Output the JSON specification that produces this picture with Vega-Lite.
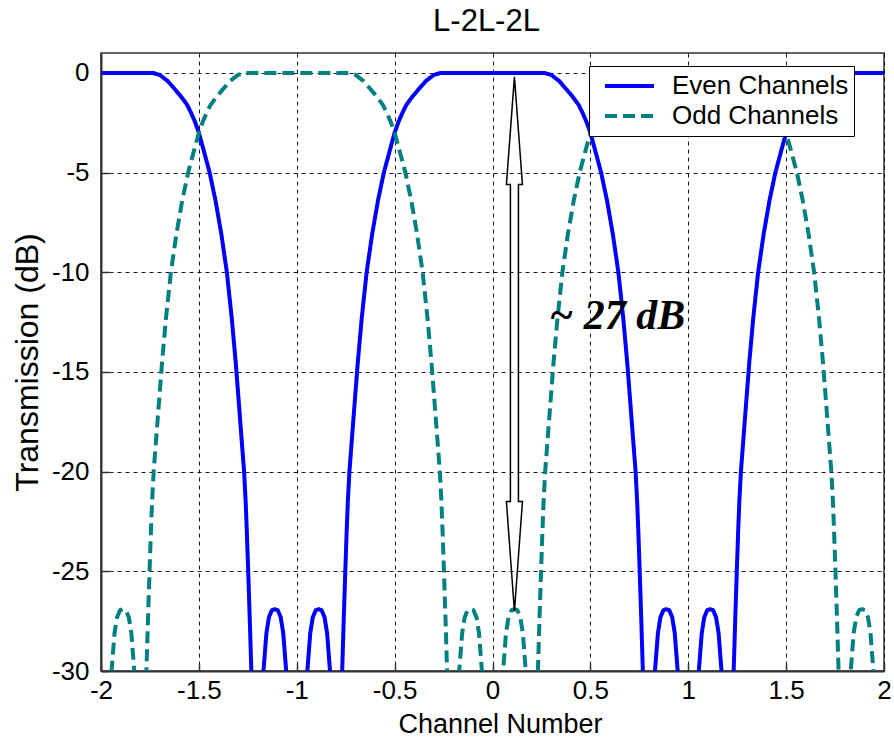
{
  "$schema": "https://vega.github.io/schema/vega-lite/v6.json",
  "autosize": {"type": "none"},
  "padding": {"left": 101, "top": 53, "right": 10, "bottom": 76},
  "width": 783,
  "height": 618,
  "background": "white",
  "title": {"text": "L-2L-2L", "font": "Liberation Sans", "fontSize": 31, "fontWeight": "normal", "color": "#000", "offset": 15, "anchor": "middle", "dx": -6},
  "config": {
    "view": {"stroke": "#333", "strokeWidth": 1.5},
    "axis": {
      "labelFont": "Liberation Sans", "labelFontSize": 26, "labelColor": "#000", "labelFlush": false,
      "titleFont": "Liberation Sans", "titleFontSize": 27, "titleFontWeight": "normal", "titleColor": "#000",
      "grid": true, "gridColor": "#000", "gridDash": [4, 4], "gridWidth": 1, "gridOpacity": 0.9,
      "domainColor": "#333", "domainWidth": 2,
      "tickColor": "#333", "tickWidth": 1.5, "tickSize": -8
    },
    "legend": {
      "orient": "none", "legendX": 488, "legendY": 13,
      "fillColor": "white", "strokeColor": "#000", "padding": 5,
      "symbolType": "stroke", "symbolSize": 2400, "symbolStrokeWidth": 4, "symbolOffset": 9,
      "clipHeight": 30, "rowPadding": 0,
      "labelFont": "Liberation Sans", "labelFontSize": 26, "labelColor": "#000", "labelOffset": 16, "labelLimit": 400
    }
  },
  "datasets": {
    "curves": [
      {"series": "Even Channels", "ch": -2, "db": 0}, {"series": "Even Channels", "ch": -1.735, "db": 0}, {"series": "Even Channels", "ch": -1.7, "db": -0.1}, {"series": "Even Channels", "ch": -1.66, "db": -0.4}, {"series": "Even Channels", "ch": -1.62, "db": -0.85}, {"series": "Even Channels", "ch": -1.59, "db": -1.2}, {"series": "Even Channels", "ch": -1.56, "db": -1.6}, {"series": "Even Channels", "ch": -1.54, "db": -2}, {"series": "Even Channels", "ch": -1.52, "db": -2.45}, {"series": "Even Channels", "ch": -1.5, "db": -3}, {"series": "Even Channels", "ch": -1.475, "db": -3.9}, {"series": "Even Channels", "ch": -1.445, "db": -5}, {"series": "Even Channels", "ch": -1.415, "db": -6.4}, {"series": "Even Channels", "ch": -1.385, "db": -8.1}, {"series": "Even Channels", "ch": -1.357, "db": -10}, {"series": "Even Channels", "ch": -1.332, "db": -12.3}, {"series": "Even Channels", "ch": -1.312, "db": -14.5}, {"series": "Even Channels", "ch": -1.297, "db": -16.4}, {"series": "Even Channels", "ch": -1.283, "db": -18.2}, {"series": "Even Channels", "ch": -1.269, "db": -20}, {"series": "Even Channels", "ch": -1.261, "db": -21.5}, {"series": "Even Channels", "ch": -1.255, "db": -23}, {"series": "Even Channels", "ch": -1.248, "db": -25}, {"series": "Even Channels", "ch": -1.24, "db": -27.4}, {"series": "Even Channels", "ch": -1.232, "db": -30}, {"series": "Even Channels", "ch": -1.215, "db": -40}, {"series": "Even Channels", "ch": -1.17, "db": -30}, {"series": "Even Channels", "ch": -1.155, "db": -28.1}, {"series": "Even Channels", "ch": -1.142, "db": -27.3}, {"series": "Even Channels", "ch": -1.127, "db": -26.95}, {"series": "Even Channels", "ch": -1.112, "db": -26.9}, {"series": "Even Channels", "ch": -1.097, "db": -26.95}, {"series": "Even Channels", "ch": -1.082, "db": -27.3}, {"series": "Even Channels", "ch": -1.069, "db": -28.1}, {"series": "Even Channels", "ch": -1.054, "db": -30}, {"series": "Even Channels", "ch": -1, "db": -40},
      {"series": "Even Channels", "ch": -0.946, "db": -30}, {"series": "Even Channels", "ch": -0.931, "db": -28.1}, {"series": "Even Channels", "ch": -0.918, "db": -27.3}, {"series": "Even Channels", "ch": -0.903, "db": -26.95}, {"series": "Even Channels", "ch": -0.888, "db": -26.9}, {"series": "Even Channels", "ch": -0.873, "db": -26.95}, {"series": "Even Channels", "ch": -0.858, "db": -27.3}, {"series": "Even Channels", "ch": -0.845, "db": -28.1}, {"series": "Even Channels", "ch": -0.83, "db": -30}, {"series": "Even Channels", "ch": -0.785, "db": -40}, {"series": "Even Channels", "ch": -0.768, "db": -30}, {"series": "Even Channels", "ch": -0.76, "db": -27.4}, {"series": "Even Channels", "ch": -0.752, "db": -25}, {"series": "Even Channels", "ch": -0.745, "db": -23}, {"series": "Even Channels", "ch": -0.739, "db": -21.5}, {"series": "Even Channels", "ch": -0.731, "db": -20}, {"series": "Even Channels", "ch": -0.717, "db": -18.2}, {"series": "Even Channels", "ch": -0.703, "db": -16.4}, {"series": "Even Channels", "ch": -0.688, "db": -14.5}, {"series": "Even Channels", "ch": -0.668, "db": -12.3}, {"series": "Even Channels", "ch": -0.643, "db": -10}, {"series": "Even Channels", "ch": -0.615, "db": -8.1}, {"series": "Even Channels", "ch": -0.585, "db": -6.4}, {"series": "Even Channels", "ch": -0.555, "db": -5}, {"series": "Even Channels", "ch": -0.525, "db": -3.9}, {"series": "Even Channels", "ch": -0.5, "db": -3}, {"series": "Even Channels", "ch": -0.48, "db": -2.45}, {"series": "Even Channels", "ch": -0.46, "db": -2}, {"series": "Even Channels", "ch": -0.44, "db": -1.6}, {"series": "Even Channels", "ch": -0.41, "db": -1.2}, {"series": "Even Channels", "ch": -0.38, "db": -0.85}, {"series": "Even Channels", "ch": -0.34, "db": -0.4}, {"series": "Even Channels", "ch": -0.3, "db": -0.1}, {"series": "Even Channels", "ch": -0.265, "db": 0}, {"series": "Even Channels", "ch": 0, "db": 0},
      {"series": "Even Channels", "ch": 0.265, "db": 0}, {"series": "Even Channels", "ch": 0.3, "db": -0.1}, {"series": "Even Channels", "ch": 0.34, "db": -0.4}, {"series": "Even Channels", "ch": 0.38, "db": -0.85}, {"series": "Even Channels", "ch": 0.41, "db": -1.2}, {"series": "Even Channels", "ch": 0.44, "db": -1.6}, {"series": "Even Channels", "ch": 0.46, "db": -2}, {"series": "Even Channels", "ch": 0.48, "db": -2.45}, {"series": "Even Channels", "ch": 0.5, "db": -3}, {"series": "Even Channels", "ch": 0.525, "db": -3.9}, {"series": "Even Channels", "ch": 0.555, "db": -5}, {"series": "Even Channels", "ch": 0.585, "db": -6.4}, {"series": "Even Channels", "ch": 0.615, "db": -8.1}, {"series": "Even Channels", "ch": 0.643, "db": -10}, {"series": "Even Channels", "ch": 0.668, "db": -12.3}, {"series": "Even Channels", "ch": 0.688, "db": -14.5}, {"series": "Even Channels", "ch": 0.703, "db": -16.4}, {"series": "Even Channels", "ch": 0.717, "db": -18.2}, {"series": "Even Channels", "ch": 0.731, "db": -20}, {"series": "Even Channels", "ch": 0.739, "db": -21.5}, {"series": "Even Channels", "ch": 0.745, "db": -23}, {"series": "Even Channels", "ch": 0.752, "db": -25}, {"series": "Even Channels", "ch": 0.76, "db": -27.4}, {"series": "Even Channels", "ch": 0.768, "db": -30}, {"series": "Even Channels", "ch": 0.785, "db": -40}, {"series": "Even Channels", "ch": 0.83, "db": -30}, {"series": "Even Channels", "ch": 0.845, "db": -28.1}, {"series": "Even Channels", "ch": 0.858, "db": -27.3}, {"series": "Even Channels", "ch": 0.873, "db": -26.95}, {"series": "Even Channels", "ch": 0.888, "db": -26.9}, {"series": "Even Channels", "ch": 0.903, "db": -26.95}, {"series": "Even Channels", "ch": 0.918, "db": -27.3}, {"series": "Even Channels", "ch": 0.931, "db": -28.1}, {"series": "Even Channels", "ch": 0.946, "db": -30}, {"series": "Even Channels", "ch": 1, "db": -40},
      {"series": "Even Channels", "ch": 1.054, "db": -30}, {"series": "Even Channels", "ch": 1.069, "db": -28.1}, {"series": "Even Channels", "ch": 1.082, "db": -27.3}, {"series": "Even Channels", "ch": 1.097, "db": -26.95}, {"series": "Even Channels", "ch": 1.112, "db": -26.9}, {"series": "Even Channels", "ch": 1.127, "db": -26.95}, {"series": "Even Channels", "ch": 1.142, "db": -27.3}, {"series": "Even Channels", "ch": 1.155, "db": -28.1}, {"series": "Even Channels", "ch": 1.17, "db": -30}, {"series": "Even Channels", "ch": 1.215, "db": -40}, {"series": "Even Channels", "ch": 1.232, "db": -30}, {"series": "Even Channels", "ch": 1.24, "db": -27.4}, {"series": "Even Channels", "ch": 1.248, "db": -25}, {"series": "Even Channels", "ch": 1.255, "db": -23}, {"series": "Even Channels", "ch": 1.261, "db": -21.5}, {"series": "Even Channels", "ch": 1.269, "db": -20}, {"series": "Even Channels", "ch": 1.283, "db": -18.2}, {"series": "Even Channels", "ch": 1.297, "db": -16.4}, {"series": "Even Channels", "ch": 1.312, "db": -14.5}, {"series": "Even Channels", "ch": 1.332, "db": -12.3}, {"series": "Even Channels", "ch": 1.357, "db": -10}, {"series": "Even Channels", "ch": 1.385, "db": -8.1}, {"series": "Even Channels", "ch": 1.415, "db": -6.4}, {"series": "Even Channels", "ch": 1.445, "db": -5}, {"series": "Even Channels", "ch": 1.475, "db": -3.9}, {"series": "Even Channels", "ch": 1.5, "db": -3}, {"series": "Even Channels", "ch": 1.52, "db": -2.45}, {"series": "Even Channels", "ch": 1.54, "db": -2}, {"series": "Even Channels", "ch": 1.56, "db": -1.6}, {"series": "Even Channels", "ch": 1.59, "db": -1.2}, {"series": "Even Channels", "ch": 1.62, "db": -0.85}, {"series": "Even Channels", "ch": 1.66, "db": -0.4}, {"series": "Even Channels", "ch": 1.7, "db": -0.1}, {"series": "Even Channels", "ch": 1.735, "db": 0}, {"series": "Even Channels", "ch": 2, "db": 0},

      {"series": "Odd Channels", "ch": -2, "db": -40}, {"series": "Odd Channels", "ch": -1.946, "db": -30}, {"series": "Odd Channels", "ch": -1.931, "db": -28.1}, {"series": "Odd Channels", "ch": -1.918, "db": -27.3}, {"series": "Odd Channels", "ch": -1.903, "db": -26.95}, {"series": "Odd Channels", "ch": -1.888, "db": -26.9}, {"series": "Odd Channels", "ch": -1.873, "db": -26.95}, {"series": "Odd Channels", "ch": -1.858, "db": -27.3}, {"series": "Odd Channels", "ch": -1.845, "db": -28.1}, {"series": "Odd Channels", "ch": -1.83, "db": -30}, {"series": "Odd Channels", "ch": -1.785, "db": -40}, {"series": "Odd Channels", "ch": -1.768, "db": -30}, {"series": "Odd Channels", "ch": -1.76, "db": -27.4}, {"series": "Odd Channels", "ch": -1.752, "db": -25}, {"series": "Odd Channels", "ch": -1.745, "db": -23}, {"series": "Odd Channels", "ch": -1.739, "db": -21.5}, {"series": "Odd Channels", "ch": -1.731, "db": -20}, {"series": "Odd Channels", "ch": -1.717, "db": -18.2}, {"series": "Odd Channels", "ch": -1.703, "db": -16.4}, {"series": "Odd Channels", "ch": -1.688, "db": -14.5}, {"series": "Odd Channels", "ch": -1.668, "db": -12.3}, {"series": "Odd Channels", "ch": -1.643, "db": -10}, {"series": "Odd Channels", "ch": -1.615, "db": -8.1}, {"series": "Odd Channels", "ch": -1.585, "db": -6.4}, {"series": "Odd Channels", "ch": -1.555, "db": -5}, {"series": "Odd Channels", "ch": -1.525, "db": -3.9}, {"series": "Odd Channels", "ch": -1.5, "db": -3}, {"series": "Odd Channels", "ch": -1.48, "db": -2.45}, {"series": "Odd Channels", "ch": -1.46, "db": -2}, {"series": "Odd Channels", "ch": -1.44, "db": -1.6}, {"series": "Odd Channels", "ch": -1.41, "db": -1.2}, {"series": "Odd Channels", "ch": -1.38, "db": -0.85}, {"series": "Odd Channels", "ch": -1.34, "db": -0.4}, {"series": "Odd Channels", "ch": -1.3, "db": -0.1}, {"series": "Odd Channels", "ch": -1.265, "db": 0}, {"series": "Odd Channels", "ch": -1, "db": 0},
      {"series": "Odd Channels", "ch": -0.735, "db": 0}, {"series": "Odd Channels", "ch": -0.7, "db": -0.1}, {"series": "Odd Channels", "ch": -0.66, "db": -0.4}, {"series": "Odd Channels", "ch": -0.62, "db": -0.85}, {"series": "Odd Channels", "ch": -0.59, "db": -1.2}, {"series": "Odd Channels", "ch": -0.56, "db": -1.6}, {"series": "Odd Channels", "ch": -0.54, "db": -2}, {"series": "Odd Channels", "ch": -0.52, "db": -2.45}, {"series": "Odd Channels", "ch": -0.5, "db": -3}, {"series": "Odd Channels", "ch": -0.475, "db": -3.9}, {"series": "Odd Channels", "ch": -0.445, "db": -5}, {"series": "Odd Channels", "ch": -0.415, "db": -6.4}, {"series": "Odd Channels", "ch": -0.385, "db": -8.1}, {"series": "Odd Channels", "ch": -0.357, "db": -10}, {"series": "Odd Channels", "ch": -0.332, "db": -12.3}, {"series": "Odd Channels", "ch": -0.312, "db": -14.5}, {"series": "Odd Channels", "ch": -0.297, "db": -16.4}, {"series": "Odd Channels", "ch": -0.283, "db": -18.2}, {"series": "Odd Channels", "ch": -0.269, "db": -20}, {"series": "Odd Channels", "ch": -0.261, "db": -21.5}, {"series": "Odd Channels", "ch": -0.255, "db": -23}, {"series": "Odd Channels", "ch": -0.248, "db": -25}, {"series": "Odd Channels", "ch": -0.24, "db": -27.4}, {"series": "Odd Channels", "ch": -0.232, "db": -30}, {"series": "Odd Channels", "ch": -0.215, "db": -40}, {"series": "Odd Channels", "ch": -0.17, "db": -30}, {"series": "Odd Channels", "ch": -0.155, "db": -28.1}, {"series": "Odd Channels", "ch": -0.142, "db": -27.3}, {"series": "Odd Channels", "ch": -0.127, "db": -26.95}, {"series": "Odd Channels", "ch": -0.112, "db": -26.9}, {"series": "Odd Channels", "ch": -0.097, "db": -26.95}, {"series": "Odd Channels", "ch": -0.082, "db": -27.3}, {"series": "Odd Channels", "ch": -0.069, "db": -28.1}, {"series": "Odd Channels", "ch": -0.054, "db": -30}, {"series": "Odd Channels", "ch": 0, "db": -40},
      {"series": "Odd Channels", "ch": 0.054, "db": -30}, {"series": "Odd Channels", "ch": 0.069, "db": -28.1}, {"series": "Odd Channels", "ch": 0.082, "db": -27.3}, {"series": "Odd Channels", "ch": 0.097, "db": -26.95}, {"series": "Odd Channels", "ch": 0.112, "db": -26.9}, {"series": "Odd Channels", "ch": 0.127, "db": -26.95}, {"series": "Odd Channels", "ch": 0.142, "db": -27.3}, {"series": "Odd Channels", "ch": 0.155, "db": -28.1}, {"series": "Odd Channels", "ch": 0.17, "db": -30}, {"series": "Odd Channels", "ch": 0.215, "db": -40}, {"series": "Odd Channels", "ch": 0.232, "db": -30}, {"series": "Odd Channels", "ch": 0.24, "db": -27.4}, {"series": "Odd Channels", "ch": 0.248, "db": -25}, {"series": "Odd Channels", "ch": 0.255, "db": -23}, {"series": "Odd Channels", "ch": 0.261, "db": -21.5}, {"series": "Odd Channels", "ch": 0.269, "db": -20}, {"series": "Odd Channels", "ch": 0.283, "db": -18.2}, {"series": "Odd Channels", "ch": 0.297, "db": -16.4}, {"series": "Odd Channels", "ch": 0.312, "db": -14.5}, {"series": "Odd Channels", "ch": 0.332, "db": -12.3}, {"series": "Odd Channels", "ch": 0.357, "db": -10}, {"series": "Odd Channels", "ch": 0.385, "db": -8.1}, {"series": "Odd Channels", "ch": 0.415, "db": -6.4}, {"series": "Odd Channels", "ch": 0.445, "db": -5}, {"series": "Odd Channels", "ch": 0.475, "db": -3.9}, {"series": "Odd Channels", "ch": 0.5, "db": -3}, {"series": "Odd Channels", "ch": 0.52, "db": -2.45}, {"series": "Odd Channels", "ch": 0.54, "db": -2}, {"series": "Odd Channels", "ch": 0.56, "db": -1.6}, {"series": "Odd Channels", "ch": 0.59, "db": -1.2}, {"series": "Odd Channels", "ch": 0.62, "db": -0.85}, {"series": "Odd Channels", "ch": 0.66, "db": -0.4}, {"series": "Odd Channels", "ch": 0.7, "db": -0.1}, {"series": "Odd Channels", "ch": 0.735, "db": 0}, {"series": "Odd Channels", "ch": 1, "db": 0},
      {"series": "Odd Channels", "ch": 1.265, "db": 0}, {"series": "Odd Channels", "ch": 1.3, "db": -0.1}, {"series": "Odd Channels", "ch": 1.34, "db": -0.4}, {"series": "Odd Channels", "ch": 1.38, "db": -0.85}, {"series": "Odd Channels", "ch": 1.41, "db": -1.2}, {"series": "Odd Channels", "ch": 1.44, "db": -1.6}, {"series": "Odd Channels", "ch": 1.46, "db": -2}, {"series": "Odd Channels", "ch": 1.48, "db": -2.45}, {"series": "Odd Channels", "ch": 1.5, "db": -3}, {"series": "Odd Channels", "ch": 1.525, "db": -3.9}, {"series": "Odd Channels", "ch": 1.555, "db": -5}, {"series": "Odd Channels", "ch": 1.585, "db": -6.4}, {"series": "Odd Channels", "ch": 1.615, "db": -8.1}, {"series": "Odd Channels", "ch": 1.643, "db": -10}, {"series": "Odd Channels", "ch": 1.668, "db": -12.3}, {"series": "Odd Channels", "ch": 1.688, "db": -14.5}, {"series": "Odd Channels", "ch": 1.703, "db": -16.4}, {"series": "Odd Channels", "ch": 1.717, "db": -18.2}, {"series": "Odd Channels", "ch": 1.731, "db": -20}, {"series": "Odd Channels", "ch": 1.739, "db": -21.5}, {"series": "Odd Channels", "ch": 1.745, "db": -23}, {"series": "Odd Channels", "ch": 1.752, "db": -25}, {"series": "Odd Channels", "ch": 1.76, "db": -27.4}, {"series": "Odd Channels", "ch": 1.768, "db": -30}, {"series": "Odd Channels", "ch": 1.785, "db": -40}, {"series": "Odd Channels", "ch": 1.83, "db": -30}, {"series": "Odd Channels", "ch": 1.845, "db": -28.1}, {"series": "Odd Channels", "ch": 1.858, "db": -27.3}, {"series": "Odd Channels", "ch": 1.873, "db": -26.95}, {"series": "Odd Channels", "ch": 1.888, "db": -26.9}, {"series": "Odd Channels", "ch": 1.903, "db": -26.95}, {"series": "Odd Channels", "ch": 1.918, "db": -27.3}, {"series": "Odd Channels", "ch": 1.931, "db": -28.1}, {"series": "Odd Channels", "ch": 1.946, "db": -30}, {"series": "Odd Channels", "ch": 2, "db": -40}
    ],
    "arrow": [
      {"k": 1, "ch": 0.112, "db": -0.2}, {"k": 2, "ch": 0.153, "db": -5.6}, {"k": 3, "ch": 0.1325, "db": -5.6}, {"k": 4, "ch": 0.1325, "db": -21.5}, {"k": 5, "ch": 0.153, "db": -21.5}, {"k": 6, "ch": 0.112, "db": -27}, {"k": 7, "ch": 0.071, "db": -21.5}, {"k": 8, "ch": 0.0915, "db": -21.5}, {"k": 9, "ch": 0.0915, "db": -5.6}, {"k": 10, "ch": 0.071, "db": -5.6}, {"k": 11, "ch": 0.112, "db": -0.2}
    ],
    "note": [
      {"ch": 0.29, "db": -12.2, "label": "~ 27 dB"}
    ]
  },
  "encoding": {
    "x": {
      "field": "ch", "type": "quantitative",
      "scale": {"domain": [-2, 2], "nice": false, "zero": false},
      "axis": {"title": "Channel Number", "titleX": 399, "values": [-2, -1.5, -1, -0.5, 0, 0.5, 1, 1.5, 2], "labelExpr": "toString(datum.value)", "labelPadding": 14, "titlePadding": 8}
    },
    "y": {
      "field": "db", "type": "quantitative",
      "scale": {"domain": [-30, 1], "nice": false, "zero": false},
      "axis": {"title": "Transmission (dB)", "titleFontSize": 32, "values": [0, -5, -10, -15, -20, -25, -30], "labelExpr": "toString(datum.value)", "labelPadding": 20, "titlePadding": 7}
    }
  },
  "layer": [
    {
      "data": {"name": "curves"},
      "mark": {"type": "line", "strokeWidth": 4, "clip": true, "strokeCap": "butt", "strokeJoin": "round"},
      "encoding": {
        "color": {
          "field": "series", "type": "nominal",
          "scale": {"domain": ["Even Channels", "Odd Channels"], "range": ["#0000ff", "#008080"]},
          "legend": {"title": null, "labelExpr": "datum.label + '\u00a0\u00a0\u00a0\u00a0'"}
        },
        "strokeDash": {
          "field": "series", "type": "nominal",
          "scale": {"domain": ["Even Channels", "Odd Channels"], "range": [[1, 0], [12, 6]]},
          "legend": {"title": null, "labelExpr": "datum.label + '\u00a0\u00a0\u00a0\u00a0'"}
        }
      }
    },
    {
      "data": {"name": "arrow"},
      "mark": {"type": "line", "color": "#000", "strokeWidth": 1.5, "strokeJoin": "miter"},
      "encoding": {"order": {"field": "k", "type": "quantitative"}}
    },
    {
      "data": {"name": "note"},
      "mark": {"type": "text", "align": "left", "baseline": "middle", "font": "Liberation Serif", "fontSize": 42, "fontWeight": "bold", "fontStyle": "italic", "color": "#000"},
      "encoding": {"text": {"field": "label"}}
    }
  ]
}
